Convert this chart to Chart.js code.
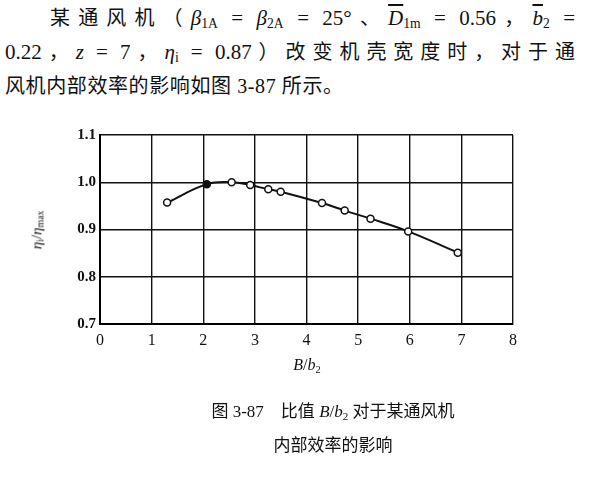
<!DOCTYPE html>
<html>
<head>
<meta charset="utf-8">
<script src="https://cdn.jsdelivr.net/npm/chart.js@4/dist/chart.umd.min.js"></script>
<style>
  html, body { margin: 0; padding: 0; background: #fff; }
  body { width: 602px; height: 479px; position: relative; overflow: hidden;
         font-family: "Liberation Serif", "DejaVu Serif", "Noto Sans CJK SC", serif; color: #111; }
  #wrap { position: absolute; left: 0; top: 0; width: 602px; height: 479px; }
  .tl { position: absolute; font-size: 20px; line-height: 34px; white-space: nowrap; }
  .just { text-align: justify; text-align-last: justify; white-space: normal; }
  .lat { font-size: 21px; }
  .cap { position: absolute; font-size: 17px; line-height: 20px; white-space: nowrap; text-align: center; width: 400px; }
  sub { font-size: 65%; vertical-align: -0.25em; line-height: 0; }
  .ovl { display: inline-block; text-decoration: overline; }
  #ytitle { position: absolute; left: 37px; top: 230px; transform: translate(-50%, -50%) rotate(-90deg);
            font-size: 15px; white-space: nowrap; }
  #xtitle { position: absolute; left: 307px; top: 365px; transform: translate(-50%, -50%);
            font-size: 16px; white-space: nowrap; }
</style>
</head>
<body>
<div class="tl just" style="left:50px; top:1px; width:525px;">某通风机（<span class="lat"><i>β</i><sub>1A</sub> = <i>β</i><sub>2A</sub> = 25°</span>、<span class="lat"><i class="ovl">D</i><sub>1m</sub> = 0.56</span>，<span class="lat"><i class="ovl">b</i><sub>2</sub> =</span></div>
<div class="tl just" style="left:5px; top:35px; width:570px;"><span class="lat">0.22</span>，<span class="lat"><i>z</i> = 7</span>，<span class="lat"><i>η</i><sub>i</sub> = 0.87</span>）改变机壳宽度时，对于通</div>
<div class="tl" style="left:5px; top:69px; letter-spacing:0.6px;">风机内部效率的影响如图 3-87 所示。</div>

<div id="wrap"><canvas id="c" width="602" height="479"></canvas></div>

<div id="ytitle"><i>η</i><sub>i</sub>/<i>η</i><sub>max</sub></div>
<div id="xtitle"><i>B</i>/<i>b</i><sub>2</sub></div>

<div class="cap" style="left:133px; top:402px;">图 3-87　比值 <i>B</i>/<i>b</i><sub>2</sub> 对于某通风机</div>
<div class="cap" style="left:133px; top:436px;">内部效率的影响</div>

<script>
const bRatio     = [1.30, 2.07, 2.55, 2.91, 3.26, 3.50, 4.30, 4.74, 5.24, 5.97, 6.93];
const efficiency = [0.957, 0.996, 1.000, 0.994, 0.985, 0.980, 0.956, 0.940, 0.923, 0.896, 0.851];
const xTicks = [0, 1, 2, 3, 4, 5, 6, 7, 8];
const yTicks = [0.7, 0.8, 0.9, 1.0, 1.1];

const points = bRatio.map((x, i) => ({ x: x, y: efficiency[i] }));

new Chart(document.getElementById('c'), {
  type: 'line',
  data: {
    datasets: [{
      data: points,
      borderColor: '#111',
      borderWidth: 2,
      tension: 0.4,
      pointRadius: 3.5,
      pointBorderWidth: 1.5,
      pointBorderColor: '#111',
      pointBackgroundColor: points.map((p, i) => i === 1 ? '#111' : '#fff'),
      fill: false
    }]
  },
  options: {
    responsive: false,
    animation: false,
    devicePixelRatio: 1,
    layout: { padding: { left: 0, top: 135, right: 89, bottom: 0 } },
    plugins: { legend: { display: false }, tooltip: { enabled: false } },
    scales: {
      x: {
        type: 'linear', min: xTicks[0], max: xTicks[xTicks.length - 1],
        afterBuildTicks: s => { s.ticks = xTicks.map(v => ({ value: v })); },
        afterFit: s => { s.height = 155; },
        grid: { color: '#111', lineWidth: 1.4, drawTicks: false },
        border: { display: true, color: '#000', width: 2 },
        ticks: { padding: 7, color: '#111', font: { family: 'Liberation Serif', size: 16 },
                 callback: v => String(v) }
      },
      y: {
        type: 'linear', min: yTicks[0], max: yTicks[yTicks.length - 1],
        afterBuildTicks: s => { s.ticks = yTicks.map(v => ({ value: v })); },
        afterFit: s => { s.width = 100; },
        grid: { color: '#111', lineWidth: 1.4, drawTicks: false },
        border: { display: true, color: '#000', width: 2 },
        ticks: { padding: 4, color: '#111', font: { family: 'Liberation Serif', size: 15, weight: 'bold' },
                 callback: v => Number(v).toFixed(1) }
      }
    }
  }
});
</script>
</body>
</html>
